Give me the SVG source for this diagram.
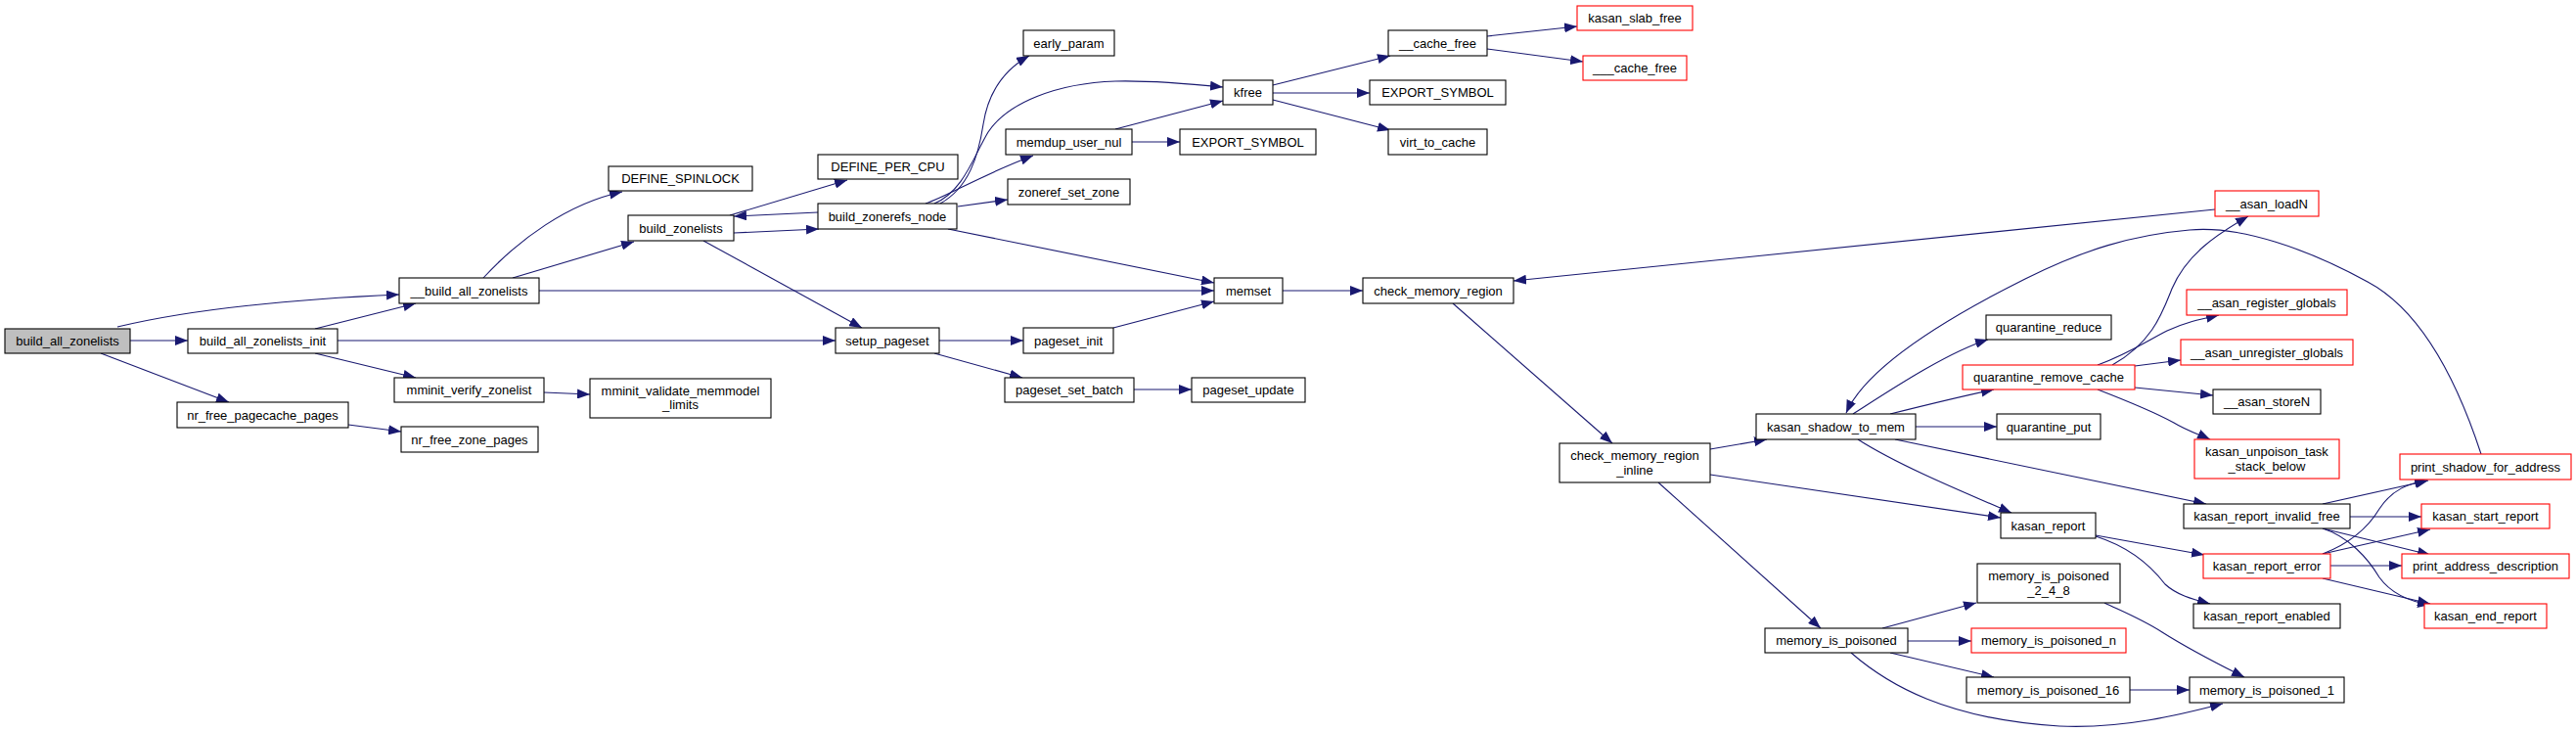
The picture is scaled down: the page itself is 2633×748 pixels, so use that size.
<svg xmlns="http://www.w3.org/2000/svg" width="2633" height="748" viewBox="0 0 2633 748">
<style>
.n{fill:#fff;stroke:#000;stroke-width:1.1}
.r{fill:#fff;stroke:#ff0000;stroke-width:1.1}
.root{fill:#bfbfbf;stroke:#000;stroke-width:1.1}
.t{font-family:"Liberation Sans",Arial,Helvetica,sans-serif;font-size:13px;text-anchor:middle;fill:#000}
.e{fill:none;stroke:#191970;stroke-width:1.1;marker-end:url(#a)}
</style>
<defs>
<marker id="a" markerUnits="userSpaceOnUse" markerWidth="13" markerHeight="10" viewBox="0 0 13 10" refX="13" refY="5" orient="auto"><path d="M0,0 L13,5 L0,10 z" fill="#191970"/></marker>
</defs>
<rect width="2633" height="748" fill="#fff"/>
<g id="edges">
<path class="e" d="M120,334 C170,322 250,308 408,301"/>
<path class="e" d="M133,348 L192,348"/>
<path class="e" d="M103,361 L234,411"/>
<path class="e" d="M322,336 L425,310"/>
<path class="e" d="M345,348 L854,348"/>
<path class="e" d="M322,361 L425,386"/>
<path class="e" d="M494,284 C530,245 580,208 636,196"/>
<path class="e" d="M524,284 L648,247"/>
<path class="e" d="M551,297 L1241,297"/>
<path class="e" d="M746,220 L866,184"/>
<path class="e" d="M750,238 L837,234"/>
<path class="e" d="M836,217 L750,221"/>
<path class="e" d="M719,246 L881,335"/>
<path class="e" d="M961,208 C990,192 1000,160 1005,127 C1010,95 1025,72 1052,57"/>
<path class="e" d="M955,208 C985,195 995,160 1010,135 C1030,105 1080,85 1140,83 C1180,82 1220,86 1250,89"/>
<path class="e" d="M946,208 C970,200 1000,180 1056,159"/>
<path class="e" d="M979,211 L1030,204"/>
<path class="e" d="M969,234 L1241,289"/>
<path class="e" d="M1140,132 L1250,103"/>
<path class="e" d="M1157,145 L1206,145"/>
<path class="e" d="M1301,87 L1421,57"/>
<path class="e" d="M1301,95 L1400,95"/>
<path class="e" d="M1301,102 L1421,133"/>
<path class="e" d="M1520,37 L1612,27"/>
<path class="e" d="M1520,50 L1618,63"/>
<path class="e" d="M1138,335 L1241,308"/>
<path class="e" d="M960,348 L1046,348"/>
<path class="e" d="M955,361 L1045,386"/>
<path class="e" d="M1159,398 L1218,398"/>
<path class="e" d="M556,401 L603,403"/>
<path class="e" d="M356,434 L410,441"/>
<path class="e" d="M1311,297 L1393,297"/>
<path class="e" d="M1485,310 L1648,453"/>
<path class="e" d="M2264,214 L1547,287"/>
<path class="e" d="M1748,459 L1806,449"/>
<path class="e" d="M1748,485 L2045,529"/>
<path class="e" d="M1695,493 L1861,642"/>
<path class="e" d="M1894,423 C1930,400 1990,360 2032,347"/>
<path class="e" d="M1932,423 C1960,416 2000,406 2038,398"/>
<path class="e" d="M1958,436 L2041,436"/>
<path class="e" d="M1937,449 L2255,515"/>
<path class="e" d="M1899,449 C1940,475 2000,500 2056,524"/>
<path class="e" d="M2536,464 C2515,400 2480,320 2420,288 C2360,255 2290,230 2238,235 C2180,240 2130,255 2070,285 C2010,315 1910,370 1887,422"/>
<path class="e" d="M2159,373 C2200,350 2210,320 2220,295 C2235,260 2265,240 2298,221"/>
<path class="e" d="M2144,373 C2175,362 2195,348 2215,338 C2235,329 2250,326 2268,322"/>
<path class="e" d="M2182,374 L2229,368"/>
<path class="e" d="M2182,396 L2262,404"/>
<path class="e" d="M2144,398 C2175,410 2200,420 2222,432 C2235,440 2248,444 2259,449"/>
<path class="e" d="M2142,547 L2253,567"/>
<path class="e" d="M2142,548 C2180,560 2200,580 2213,597 C2225,608 2240,612 2259,617"/>
<path class="e" d="M2374,515 L2482,491"/>
<path class="e" d="M2402,528 L2475,528"/>
<path class="e" d="M2374,540 L2484,567"/>
<path class="e" d="M2374,540 C2400,548 2420,570 2432,590 C2445,608 2465,615 2484,618"/>
<path class="e" d="M2374,566 C2400,556 2420,540 2432,520 C2445,500 2462,494 2481,491"/>
<path class="e" d="M2374,566 L2484,541"/>
<path class="e" d="M2382,578 L2455,578"/>
<path class="e" d="M2374,591 L2484,617"/>
<path class="e" d="M1924,642 L2020,616"/>
<path class="e" d="M1950,655 L2015,655"/>
<path class="e" d="M1932,667 L2038,692"/>
<path class="e" d="M1892,667 C1930,700 1990,735 2105,742 C2170,745 2230,730 2272,719"/>
<path class="e" d="M2151,616 C2170,625 2190,633 2210,646 C2240,665 2270,680 2294,692"/>
<path class="e" d="M2177,705 L2238,705"/>
</g>
<g id="n1"><rect class="root" x="5" y="336" width="128" height="25"/><text class="t" x="69" y="353">build_all_zonelists</text></g>
<g id="n2"><rect class="n" x="192" y="336" width="153" height="25"/><text class="t" x="268.5" y="353">build_all_zonelists_init</text></g>
<g id="n3"><rect class="n" x="408" y="284" width="143" height="26"/><text class="t" x="479.5" y="301.5">__build_all_zonelists</text></g>
<g id="n4"><rect class="n" x="622" y="170" width="147" height="25"/><text class="t" x="695.5" y="187">DEFINE_SPINLOCK</text></g>
<g id="n5"><rect class="n" x="642" y="220" width="108" height="26"/><text class="t" x="696" y="237.5">build_zonelists</text></g>
<g id="n6"><rect class="n" x="403" y="386" width="153" height="25"/><text class="t" x="479.5" y="403">mminit_verify_zonelist</text></g>
<g id="n7"><rect class="n" x="603" y="387" width="185" height="40"/><text class="t" x="695.5" y="404">mminit_validate_memmodel</text><text class="t" x="695.5" y="418">_limits</text></g>
<g id="n8"><rect class="n" x="181" y="411" width="175" height="26"/><text class="t" x="268.5" y="428.5">nr_free_pagecache_pages</text></g>
<g id="n9"><rect class="n" x="410" y="436" width="140" height="26"/><text class="t" x="480" y="453.5">nr_free_zone_pages</text></g>
<g id="n10"><rect class="n" x="1046" y="31" width="93" height="26"/><text class="t" x="1092.5" y="48.5">early_param</text></g>
<g id="n11"><rect class="n" x="1250" y="82" width="51" height="25"/><text class="t" x="1275.5" y="99">kfree</text></g>
<g id="n12"><rect class="n" x="1028" y="132" width="129" height="26"/><text class="t" x="1092.5" y="149.5">memdup_user_nul</text></g>
<g id="n13"><rect class="n" x="1206" y="132" width="139" height="26"/><text class="t" x="1275.5" y="149.5">EXPORT_SYMBOL</text></g>
<g id="n14"><rect class="n" x="836" y="158" width="143" height="25"/><text class="t" x="907.5" y="175">DEFINE_PER_CPU</text></g>
<g id="n15"><rect class="n" x="1030" y="183" width="125" height="26"/><text class="t" x="1092.5" y="200.5">zoneref_set_zone</text></g>
<g id="n16"><rect class="n" x="836" y="208" width="142" height="26"/><text class="t" x="907" y="225.5">build_zonerefs_node</text></g>
<g id="n17"><rect class="n" x="1241" y="284" width="70" height="26"/><text class="t" x="1276" y="301.5">memset</text></g>
<g id="n18"><rect class="n" x="854" y="335" width="106" height="26"/><text class="t" x="907" y="352.5">setup_pageset</text></g>
<g id="n19"><rect class="n" x="1046" y="335" width="92" height="26"/><text class="t" x="1092" y="352.5">pageset_init</text></g>
<g id="n20"><rect class="n" x="1027" y="386" width="132" height="25"/><text class="t" x="1093" y="403">pageset_set_batch</text></g>
<g id="n21"><rect class="n" x="1218" y="386" width="116" height="25"/><text class="t" x="1276" y="403">pageset_update</text></g>
<g id="n22"><rect class="r" x="1612" y="6" width="118" height="25"/><text class="t" x="1671" y="23">kasan_slab_free</text></g>
<g id="n23"><rect class="n" x="1419" y="31" width="101" height="26"/><text class="t" x="1469.5" y="48.5">__cache_free</text></g>
<g id="n24"><rect class="r" x="1618" y="57" width="106" height="25"/><text class="t" x="1671" y="74">___cache_free</text></g>
<g id="n25"><rect class="n" x="1400" y="82" width="139" height="25"/><text class="t" x="1469.5" y="99">EXPORT_SYMBOL</text></g>
<g id="n26"><rect class="n" x="1419" y="132" width="101" height="26"/><text class="t" x="1469.5" y="149.5">virt_to_cache</text></g>
<g id="n27"><rect class="n" x="1393" y="284" width="154" height="26"/><text class="t" x="1470" y="301.5">check_memory_region</text></g>
<g id="n28"><rect class="n" x="1594" y="453" width="154" height="40"/><text class="t" x="1671" y="469.5">check_memory_region</text><text class="t" x="1671" y="484.5">_inline</text></g>
<g id="n29"><rect class="n" x="1795" y="423" width="163" height="26"/><text class="t" x="1876.5" y="440.5">kasan_shadow_to_mem</text></g>
<g id="n30"><rect class="n" x="1804" y="642" width="146" height="25"/><text class="t" x="1877" y="659">memory_is_poisoned</text></g>
<g id="n31"><rect class="r" x="2264" y="195" width="106" height="26"/><text class="t" x="2317" y="212.5">__asan_loadN</text></g>
<g id="n32"><rect class="r" x="2235" y="296" width="164" height="26"/><text class="t" x="2317" y="313.5">__asan_register_globals</text></g>
<g id="n33"><rect class="n" x="2030" y="322" width="128" height="25"/><text class="t" x="2094" y="339">quarantine_reduce</text></g>
<g id="n34"><rect class="r" x="2229" y="347" width="176" height="26"/><text class="t" x="2317" y="364.5">__asan_unregister_globals</text></g>
<g id="n35"><rect class="r" x="2006" y="373" width="176" height="25"/><text class="t" x="2094" y="390">quarantine_remove_cache</text></g>
<g id="n36"><rect class="n" x="2262" y="398" width="110" height="25"/><text class="t" x="2317" y="415">__asan_storeN</text></g>
<g id="n37"><rect class="n" x="2041" y="423" width="106" height="26"/><text class="t" x="2094" y="440.5">quarantine_put</text></g>
<g id="n38"><rect class="r" x="2243" y="449" width="148" height="40"/><text class="t" x="2317" y="465.5">kasan_unpoison_task</text><text class="t" x="2317" y="480.5">_stack_below</text></g>
<g id="n39"><rect class="r" x="2453" y="464" width="175" height="26"/><text class="t" x="2540.5" y="481.5">print_shadow_for_address</text></g>
<g id="n40"><rect class="n" x="2232" y="515" width="170" height="25"/><text class="t" x="2317" y="532">kasan_report_invalid_free</text></g>
<g id="n41"><rect class="r" x="2475" y="515" width="131" height="25"/><text class="t" x="2540.5" y="532">kasan_start_report</text></g>
<g id="n42"><rect class="n" x="2045" y="524" width="97" height="26"/><text class="t" x="2093.5" y="541.5">kasan_report</text></g>
<g id="n43"><rect class="r" x="2252" y="566" width="130" height="25"/><text class="t" x="2317" y="583">kasan_report_error</text></g>
<g id="n44"><rect class="r" x="2455" y="566" width="171" height="25"/><text class="t" x="2540.5" y="583">print_address_description</text></g>
<g id="n45"><rect class="n" x="2021" y="576" width="146" height="40"/><text class="t" x="2094" y="592.5">memory_is_poisoned</text><text class="t" x="2094" y="607.5">_2_4_8</text></g>
<g id="n46"><rect class="n" x="2242" y="617" width="150" height="25"/><text class="t" x="2317" y="634">kasan_report_enabled</text></g>
<g id="n47"><rect class="r" x="2478" y="617" width="125" height="25"/><text class="t" x="2540.5" y="634">kasan_end_report</text></g>
<g id="n48"><rect class="r" x="2015" y="642" width="158" height="25"/><text class="t" x="2094" y="659">memory_is_poisoned_n</text></g>
<g id="n49"><rect class="n" x="2010" y="692" width="167" height="26"/><text class="t" x="2093.5" y="709.5">memory_is_poisoned_16</text></g>
<g id="n50"><rect class="n" x="2238" y="692" width="158" height="26"/><text class="t" x="2317" y="709.5">memory_is_poisoned_1</text></g>
</svg>
